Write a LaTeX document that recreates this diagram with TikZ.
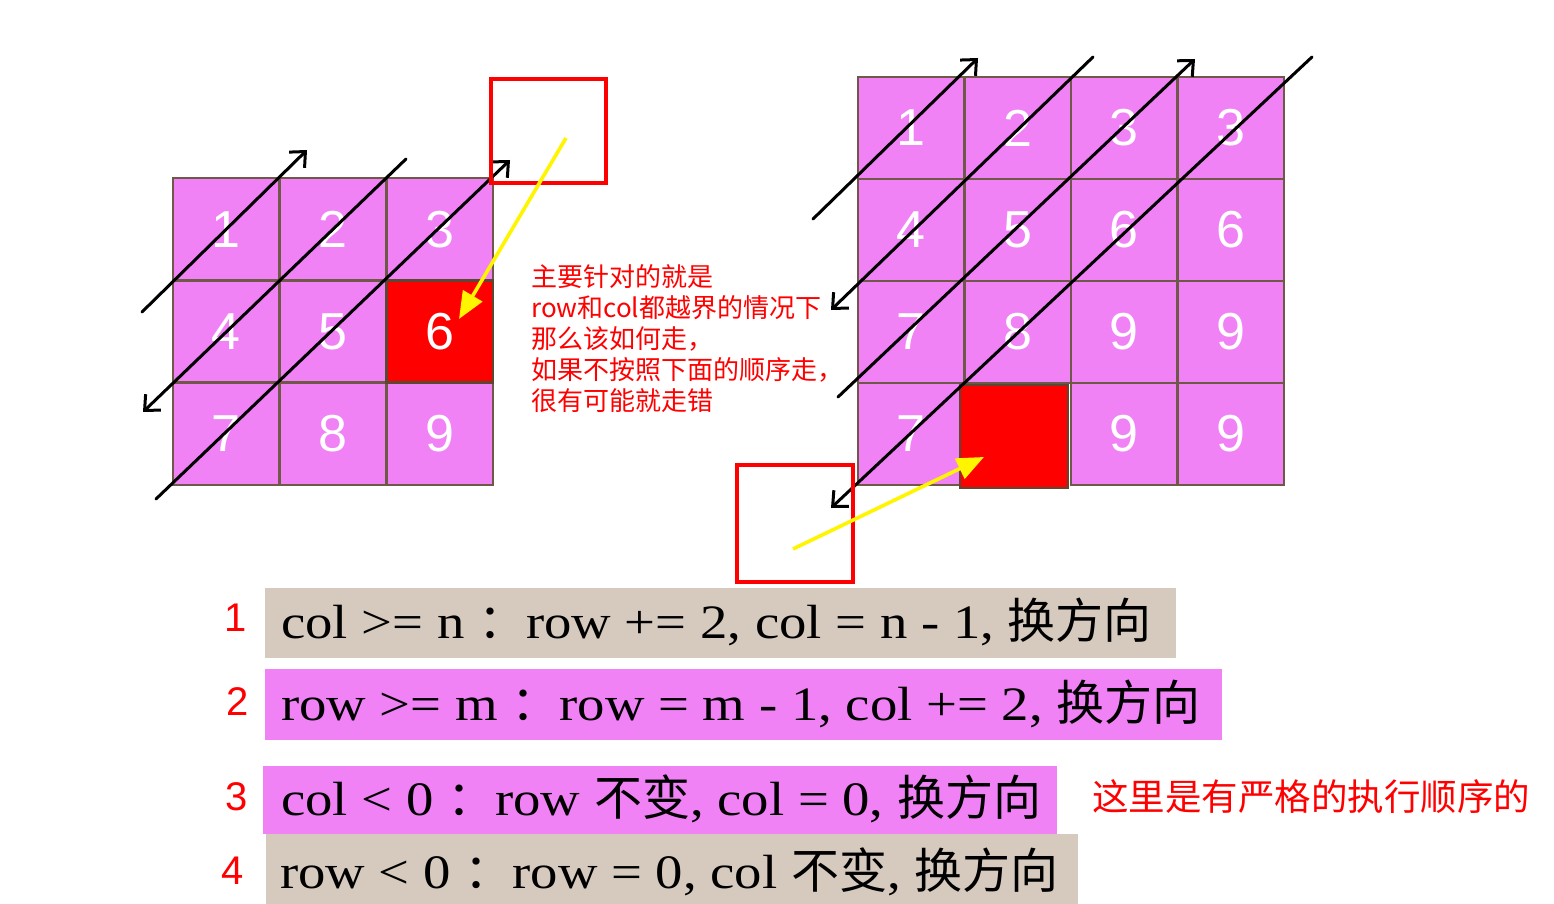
\documentclass[tikz,border=0pt]{standalone}
\usepackage{fontspec}
\setmainfont{Liberation Serif}[FakeStretch=1.14]
\newfontfamily\cjk{Noto Sans CJK SC}
\newfontfamily\arialf{Liberation Sans}
\usetikzlibrary{arrows.meta}
\definecolor{cellpink}{RGB}{240,130,245}
\definecolor{cellborder}{RGB}{112,88,72}
\definecolor{darkborder}{RGB}{95,70,50}
\definecolor{tanbg}{RGB}{214,202,190}
\definecolor{redc}{RGB}{255,0,0}
\definecolor{yel}{RGB}{255,245,0}
\tikzset{
  cellbase/.style={draw=cellborder, line width=2.4pt, fill=cellpink, inner sep=0pt,
    text=white, font=\arialf\fontsize{52}{52}\selectfont},
  lcell/.style={cellbase, minimum width=106.67pt, minimum height=102.33pt},
  rcell/.style={cellbase, minimum width=106.5pt, minimum height=102pt},
  redcell/.style={cellbase, fill=redc, draw=darkborder},
  diag/.style={draw=black, line width=3pt, line cap=round},
  barb/.style={-{Straight Barb[length=12pt,width=22pt,line width=3pt]}},
  redbox/.style={draw=redc, line width=3.4pt, inner sep=0pt},
  yarrow/.style={draw=yel, line width=3.6pt, -{Triangle[length=27pt,width=22pt]}},
  rowbox/.style={inner sep=0pt, anchor=north west},
  rowtext/.style={anchor=base west, inner sep=0pt, font=\fontsize{48}{48}\selectfont},
  rednum/.style={text=redc, inner sep=0pt, font=\arialf\fontsize{40}{40}\selectfont},
  note/.style={text=redc, anchor=base west, inner sep=0pt, font=\cjk\fontsize{26}{31}\selectfont}
}
\begin{document}
\begin{tikzpicture}[x=1pt,y=-1pt]
\useasboundingbox (0,0) rectangle (1554,904);
\fill[white] (0,0) rectangle (1554,904);

% left grid
\node[lcell] (L1) at (226.33,229.17) {1};
\node[lcell] (L2) at (333.00,229.17) {2};
\node[lcell] (L3) at (439.67,229.17) {3};
\node[lcell] (L4) at (226.33,331.50) {4};
\node[lcell] (L5) at (333.00,331.50) {5};
\node[lcell] (L7) at (226.33,433.83) {7};
\node[lcell] (L8) at (333.00,433.83) {8};
\node[lcell] (L9) at (439.67,433.83) {9};
\node[lcell, redcell] (L6) at (439.67,331.50) {6};

% right grid
\node[rcell] (R11) at (911.25,128) {1};
\node[rcell] (R12) at (1017.75,128) {2};
\node[rcell] (R13) at (1124.25,128) {3};
\node[rcell] (R14) at (1230.75,128) {3};
\node[rcell] (R21) at (911.25,230) {4};
\node[rcell] (R22) at (1017.75,230) {5};
\node[rcell] (R23) at (1124.25,230) {6};
\node[rcell] (R24) at (1230.75,230) {6};
\node[rcell] (R31) at (911.25,332) {7};
\node[rcell] (R32) at (1017.75,332) {8};
\node[rcell] (R33) at (1124.25,332) {9};
\node[rcell] (R34) at (1230.75,332) {9};
\node[rcell] (R41) at (911.25,434) {7};
\node[rcell] (R43) at (1124.25,434) {9};
\node[rcell] (R44) at (1230.75,434) {9};
\node[redcell, minimum width=108pt, minimum height=103pt] (R42) at (1014,436.5) {};

% diagonal traversal lines, left
\coordinate (la1s) at (142,312);  \coordinate (la1e) at (307,150);
\coordinate (la2s) at (406,159);  \coordinate (la2e) at (143,412);
\coordinate (la3s) at (156,499);  \coordinate (la3e) at (510,160);
\draw[diag, barb] (la1s) -- (la1e);
\draw[diag, barb] (la2s) -- (la2e);
\draw[diag, barb] (la3s) -- (la3e);

% diagonal traversal lines, right
\coordinate (ra1s) at (813,219);  \coordinate (ra1e) at (978,58);
\coordinate (ra2s) at (1093,57);  \coordinate (ra2e) at (831,310);
\coordinate (ra3s) at (838,397);  \coordinate (ra3e) at (1195,59);
\coordinate (ra4s) at (1312,57);  \coordinate (ra4e) at (831,508);
\draw[diag, barb] (ra1s) -- (ra1e);
\draw[diag, barb] (ra2s) -- (ra2e);
\draw[diag, barb] (ra3s) -- (ra3e);
\draw[diag, barb] (ra4s) -- (ra4e);

% red out-of-range boxes
\node[redbox, minimum width=115pt, minimum height=104pt] (box1) at (548.5,131) {};
\node[redbox, minimum width=116pt, minimum height=117pt] (box2) at (795,523.5) {};

% yellow arrows
\coordinate (y1s) at (566,138); \coordinate (y1e) at (459,319);
\coordinate (y2s) at (793,549); \coordinate (y2e) at (984,457);
\draw[yarrow] (y1s) -- (y1e);
\draw[yarrow] (y2s) -- (y2e);

% note
\node[note] (n1) at (531,286) {主要针对的就是};
\node[note] (n2) at (531,317) {row和col都越界的情况下};
\node[note] (n3) at (531,348) {那么该如何走，};
\node[note] (n4) at (531,379) {如果不按照下面的顺序走，};
\node[note] (n5) at (531,410) {很有可能就走错};

% rule rows
\node[rowbox, fill=tanbg, minimum width=911pt, minimum height=70pt] (row1) at (265,588) {};
\node[rowbox, fill=cellpink, minimum width=957pt, minimum height=71pt] (row2) at (265,669) {};
\node[rowbox, fill=cellpink, minimum width=794pt, minimum height=68pt] (row3) at (263,766) {};
\node[rowbox, fill=tanbg, minimum width=812pt, minimum height=70pt] (row4) at (266,834) {};

\node[rowtext] (t1) at (281,638) {col >= n {\cjk ：}row += 2, col = n - 1, {\cjk 换方向}};
\node[rowtext] (t2) at (281,720) {row >= m {\cjk ：}row = m - 1, col += 2, {\cjk 换方向}};
\node[rowtext] (t3) at (281,815) {col < 0 {\cjk ：}row {\cjk 不变}, col = 0, {\cjk 换方向}};
\node[rowtext] (t4) at (280,888) {row < 0 {\cjk ：}row = 0, col {\cjk 不变}, {\cjk 换方向}};

\node[rednum] (k1) at (236,618) {1};
\node[rednum] (k2) at (238,702) {2};
\node[rednum] (k3) at (237,797) {3};
\node[rednum] (k4) at (233,871) {4};

\node[text=redc, anchor=base west, inner sep=0pt, font=\cjk\fontsize{36.5}{40}\selectfont] (order) at (1092,810) {这里是有严格的执行顺序的};
\end{tikzpicture}
\end{document}
